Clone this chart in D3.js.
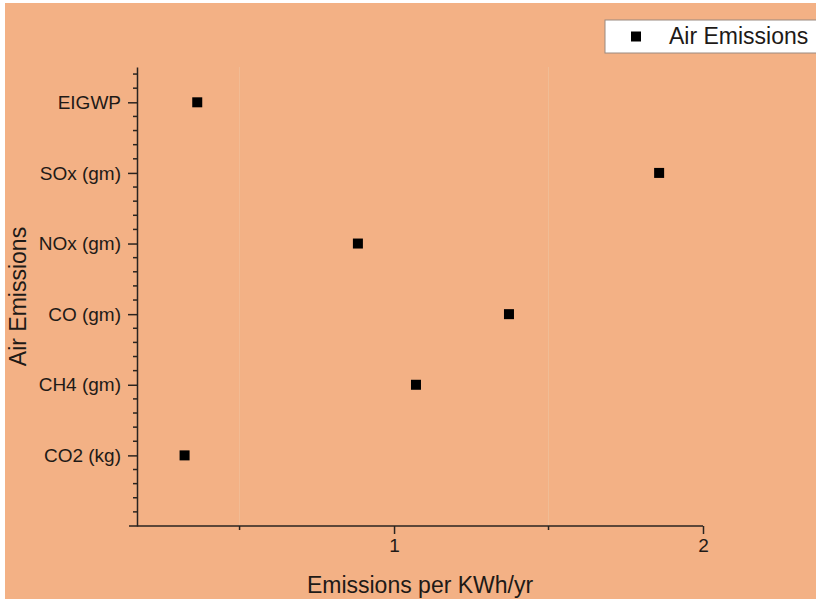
<!DOCTYPE html>
<html lang="en">
<head>
    <meta charset="UTF-8">
    <title>Air Emissions</title>
    <style>
        body { margin: 0; background: #fff; }
        text { font-family: "Liberation Sans", Arial, sans-serif; fill: #1e1a17; }
        .axis path, .axis line { stroke: #2a2420; stroke-width: 1.5px; }
        .grid line { stroke: #f0bc96; stroke-width: 1px; }
    </style>
</head>
<body>
<svg width="816" height="599"></svg>
<script src="https://cdn.jsdelivr.net/npm/d3@7"></script>
<script>
  // categories, bottom to top
  var categories = ["CO2 (kg)", "CH4 (gm)", "CO (gm)", "NOx (gm)", "SOx (gm)", "EIGWP"];
  // emissions per KWh/yr
  var values = [0.322, 1.071, 1.372, 0.883, 1.858, 0.363];
  var xMajor = [1, 2];
  var xMinor = [0.5, 1.5];
  var seriesName = "Air Emissions";

  var svg = d3.select("svg"),
    width = +svg.attr("width"),
    height = +svg.attr("height");

  var margin = {left: 137, right: 113, top: 67, bottom: 73};

  // peach plot background with a thin white border at top / left
  svg.append("rect")
    .attr("x", 5).attr("y", 3)
    .attr("width", width - 5).attr("height", height - 3)
    .attr("fill", "#f3b185");

  var x = d3.scaleLinear()
    .domain([0.168, 2])
    .range([margin.left, width - margin.right]);

  var y = d3.scaleLinear()
    .domain([0, 6.5])
    .range([height - margin.bottom, margin.top]);

  // faint vertical grid at the half steps
  svg.append("g")
    .attr("class", "grid")
    .selectAll("line")
    .data(xMinor)
    .enter()
    .append("line")
    .attr("x1", function (d) { return x(d); })
    .attr("x2", function (d) { return x(d); })
    .attr("y1", y(6.5))
    .attr("y2", y(0));

  // x axis: major and minor ticks
  var xAxis = svg.append("g")
    .attr("class", "axis")
    .attr("transform", "translate(0," + y(0) + ")");

  xAxis.call(d3.axisBottom(x).tickValues(xMajor).tickFormat(d3.format("d"))
      .tickSizeInner(8).tickSizeOuter(0).tickPadding(5))
    .call(function (g) {
      g.select(".domain").attr("d", "M" + (x.range()[0] - 8) + ",0H" + x.range()[1]);
      g.selectAll("text").attr("font-size", "19px").attr("fill", "#1e1a17");
    });

  xAxis.selectAll(".minor")
    .data(xMinor)
    .enter()
    .append("line")
    .attr("class", "minor")
    .attr("x1", function (d) { return x(d); })
    .attr("x2", function (d) { return x(d); })
    .attr("y1", 0)
    .attr("y2", 4);

  // y axis: category labels at integers, minor ticks every 0.2
  var yAxis = svg.append("g")
    .attr("class", "axis")
    .attr("transform", "translate(" + x.range()[0] + ",0)");

  yAxis.call(d3.axisLeft(y)
      .tickValues(d3.range(1, categories.length + 1))
      .tickFormat(function (d) { return categories[d - 1]; })
      .tickSizeInner(9).tickSizeOuter(0).tickPadding(7))
    .call(function (g) {
      g.selectAll("text").attr("font-size", "19px").attr("fill", "#1e1a17");
    });

  var minorY = d3.range(1, 33).map(function (i) { return i / 5; })
    .filter(function (d) { return Math.abs(d - Math.round(d)) > 1e-6; });

  yAxis.selectAll(".minor")
    .data(minorY)
    .enter()
    .append("line")
    .attr("class", "minor")
    .attr("x1", -4)
    .attr("x2", 0)
    .attr("y1", function (d) { return y(d); })
    .attr("y2", function (d) { return y(d); });

  // points
  var size = 10;
  svg.append("g")
    .selectAll("rect")
    .data(values)
    .enter()
    .append("rect")
    .attr("x", function (d) { return x(d) - size / 2; })
    .attr("y", function (d, i) { return y(i + 1) - size / 2; })
    .attr("width", size)
    .attr("height", size)
    .attr("fill", "#000");

  // axis titles
  svg.append("text")
    .attr("x", (x.range()[0] + x.range()[1]) / 2)
    .attr("y", 593)
    .attr("text-anchor", "middle")
    .attr("font-size", "23px")
    .text("Emissions per KWh/yr");

  svg.append("text")
    .attr("transform", "translate(26," + (y(0) + y(6.5)) / 2 + ") rotate(-90)")
    .attr("text-anchor", "middle")
    .attr("font-size", "23px")
    .text("Air Emissions");

  // legend
  var legend = svg.append("g").attr("transform", "translate(605,20)");
  legend.append("rect")
    .attr("width", 220)
    .attr("height", 33)
    .attr("fill", "#fff")
    .attr("stroke", "#9a8a80")
    .attr("stroke-width", 1);
  legend.append("rect")
    .attr("x", 26).attr("y", 11.5)
    .attr("width", 10).attr("height", 10)
    .attr("fill", "#000");
  legend.append("text")
    .attr("x", 64)
    .attr("y", 24)
    .attr("font-size", "23px")
    .text(seriesName);
</script>
</body>
</html>
